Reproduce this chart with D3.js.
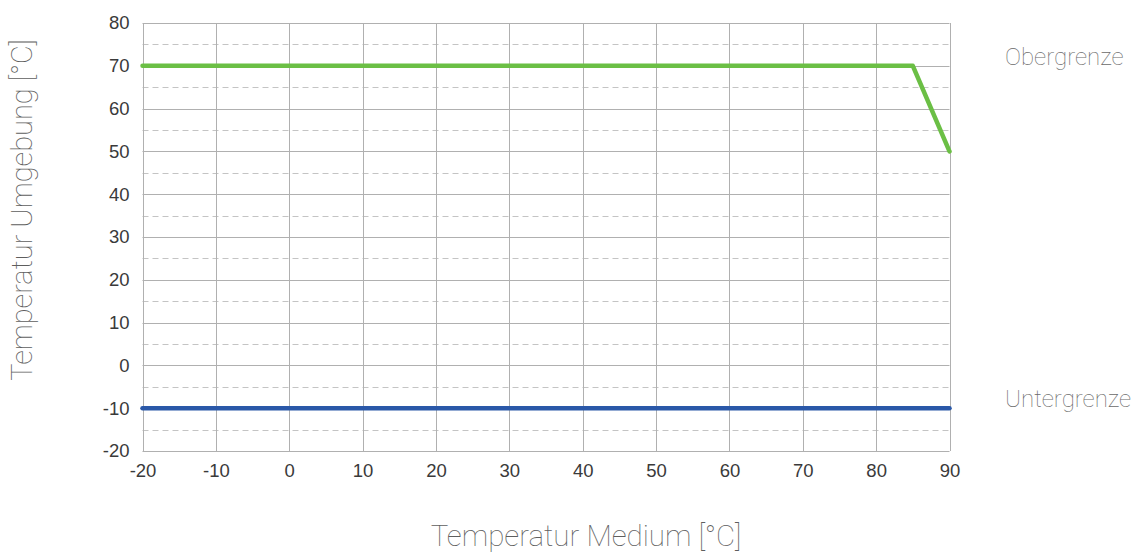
<!DOCTYPE html>
<html><head><meta charset="utf-8">
<script src="https://cdn.jsdelivr.net/npm/d3@7"></script>
<style>body{margin:0;background:#fff}svg{display:block}</style>
</head><body>
<svg id="c" width="1133" height="554"></svg>
<script>
const xTicks = [-20,-10,0,10,20,30,40,50,60,70,80,90];
const yTicks = [-20,-10,0,10,20,30,40,50,60,70,80];
const yMinor = [-15,-5,5,15,25,35,45,55,65,75];
const upperX = [-20,85,90];
const upperY = [70,70,50];
const lowerX = [-20,90];
const lowerY = [-10,-10];
const seriesNames = ["Obergrenze","Untergrenze"];
const xTitle = "Temperatur Medium [°C]";
const yTitle = "Temperatur Umgebung [°C]";

const svg = d3.select("#c");
const L=142.5, R=949.5, T=23, B=451;
const x = d3.scaleLinear().domain([-20,90]).range([L,R]);
const y = d3.scaleLinear().domain([-20,80]).range([B,T]);

// minor dashed
svg.append("g").selectAll("line").data(yMinor).join("line")
  .attr("x1",L).attr("x2",R).attr("y1",d=>Math.round(y(d))+0.5).attr("y2",d=>Math.round(y(d))+0.5)
  .attr("stroke","#c4c4c4").attr("stroke-width",1).attr("stroke-dasharray","6,4");
// major grid
svg.append("g").selectAll("line").data(yTicks).join("line")
  .attr("x1",L).attr("x2",R).attr("y1",d=>Math.round(y(d))+0.5).attr("y2",d=>Math.round(y(d))+0.5)
  .attr("stroke","#b0b0b0").attr("stroke-width",1);
svg.append("g").selectAll("line").data(xTicks).join("line")
  .attr("y1",T).attr("y2",B).attr("x1",d=>Math.round(x(d))+0.5).attr("x2",d=>Math.round(x(d))+0.5)
  .attr("stroke","#b0b0b0").attr("stroke-width",1);

const fmt = d => String(d);
const xa = svg.append("g").attr("transform",`translate(0,${B})`)
  .call(d3.axisBottom(x).tickValues(xTicks).tickSize(0).tickPadding(13).tickFormat(fmt));
const ya = svg.append("g").attr("transform",`translate(${L},0)`)
  .call(d3.axisLeft(y).tickValues(yTicks).tickSize(0).tickPadding(13).tickFormat(fmt));
[xa,ya].forEach(a=>{
  a.select(".domain").remove();
  a.selectAll("text").attr("font-family","Liberation Sans, Arial, sans-serif").attr("font-size",18.5).attr("fill","#3a3a3a");
});
xa.selectAll("text").attr("dy","0.71em");

const line = d3.line().x(d=>x(d[0])).y(d=>y(d[1]));
svg.append("path").datum(upperX.map((v,i)=>[v,upperY[i]])).attr("d",line)
  .attr("fill","none").attr("stroke","#6bbf45").attr("stroke-width",4.5).attr("stroke-linejoin","round").attr("stroke-linecap","round");
svg.append("path").datum(lowerX.map((v,i)=>[v,lowerY[i]])).attr("d",line)
  .attr("fill","none").attr("stroke","#2a58a8").attr("stroke-width",4.5).attr("stroke-linecap","round");

const thin = "Roboto, Inter, sans-serif";
svg.append("text").attr("x",1005).attr("y",y(upperY[0])-0.5).attr("font-family",thin).attr("font-weight",100)
  .attr("font-size",24).attr("fill","#6a6a6a").text(seriesNames[0]);
svg.append("text").attr("x",1005).attr("y",y(lowerY[0])-1).attr("font-family",thin).attr("font-weight",100)
  .attr("font-size",24).attr("fill","#6a6a6a").text(seriesNames[1]);

svg.append("text").attr("x",586).attr("y",546).attr("text-anchor","middle").attr("font-family",thin).attr("font-weight",100)
  .attr("font-size",29.5).attr("fill","#5e5e5e").text(xTitle);
svg.append("text").attr("transform","translate(32,210) rotate(-90)").attr("text-anchor","middle").attr("font-family",thin).attr("font-weight",100)
  .attr("font-size",29).attr("fill","#5e5e5e").text(yTitle);
</script>
</body></html>
